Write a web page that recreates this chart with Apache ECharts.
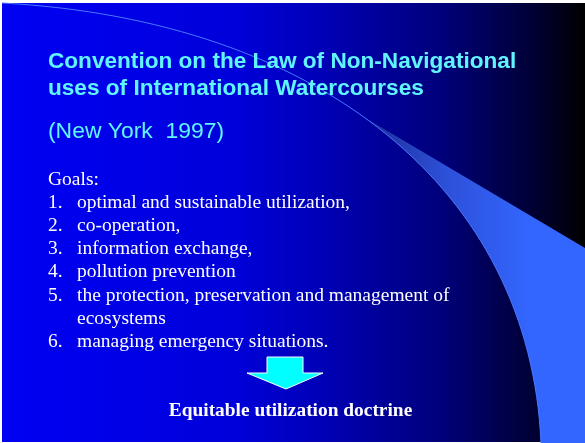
<!DOCTYPE html>
<html>
<head>
<meta charset="utf-8">
<script src="https://cdn.jsdelivr.net/npm/echarts@6/dist/echarts.min.js"></script>
<style>
html,body{margin:0;padding:0;background:#fff;}
#c{width:585px;height:443px;}
</style>
</head>
<body>
<div id="c"></div>
<script>
// ---- content ----
const titleLines = ['Convention on the Law of Non-Navigational', 'uses of International Watercourses'];
const subtitle = '(New York  1997)';
const goalsHeading = 'Goals:';
const goalNumbers = ['1.', '2.', '3.', '4.', '5.', '6.'];
const goalTexts = [
  ['optimal and sustainable utilization,'],
  ['co-operation,'],
  ['information exchange,'],
  ['pollution prevention'],
  ['the protection, preservation and management of', 'ecosystems'],
  ['managing emergency situations.']
];
const conclusion = 'Equitable utilization doctrine';

// ---- layout ----
const SANS = 'Liberation Sans, Arial, sans-serif';
const SERIF = 'Liberation Serif, Times New Roman, serif';
const chart = echarts.init(document.getElementById('c'), null, {renderer: 'canvas', width: 585, height: 443});

// curve geometry (lower edge of swoosh / thin arc)
const P0 = [2, 3], P1 = [320, 20], P2 = [530, 190], P3 = [541, 443];
function bez(t) {
  const u = 1 - t;
  const a = u * u * u, b = 3 * u * u * t, c = 3 * u * t * t, d = t * t * t;
  return [a * P0[0] + b * P1[0] + c * P2[0] + d * P3[0], a * P0[1] + b * P1[1] + c * P2[1] + d * P3[1]];
}
const swooshPts = [];
for (let k = 0; k <= 60; k++) swooshPts.push(bez(0.46 + (1 - 0.46) * k / 60));
swooshPts.push([585, 443], [585, 248]);

const BODY = 19.5;
function txt(text, x, baseline, opts) {
  const o = Object.assign({fontSize: BODY, fontFamily: SERIF}, opts || {});
  const k = o.fontFamily === SANS ? 0.35 : 0.3375;
  return {
    type: 'text', x: x, y: baseline - o.fontSize * k, silent: true,
    style: Object.assign({
      text: text, fill: '#ffffff', textAlign: 'left', textVerticalAlign: 'middle'
    }, o)
  };
}

const elements = [];
// background
elements.push({
  type: 'rect', shape: {x: 2, y: 3, width: 583, height: 439}, silent: true,
  style: {fill: {type: 'linear', x: 0, y: 0, x2: 1, y2: 0, colorStops: [
    {offset: 0, color: '#0000f4'},
    {offset: 0.4, color: '#0000da'},
    {offset: 0.55, color: '#0000b6'},
    {offset: 0.75, color: '#00007c'},
    {offset: 0.9, color: '#00003a'},
    {offset: 1, color: '#000000'}
  ]}}
});
// swoosh fill
elements.push({
  type: 'polygon', silent: true, shape: {points: swooshPts},
  style: {fill: {type: 'linear', x: 360, y: 0, x2: 530, y2: 0, global: true, colorStops: [
    {offset: 0, color: '#1a2a90'},
    {offset: 0.5, color: '#2d50d8'},
    {offset: 1, color: '#3366ff'}
  ]}}
});
// thin arc
elements.push({
  type: 'bezierCurve', silent: true,
  shape: {x1: P0[0], y1: P0[1], cpx1: P1[0], cpy1: P1[1], cpx2: P2[0], cpy2: P2[1], x2: P3[0], y2: P3[1]},
  style: {fill: null, stroke: '#4a78ff', lineWidth: 1}
});

// title
const titleBase = [70, 97];
titleLines.forEach(function (l, i) {
  elements.push(txt(l, 48, titleBase[i], {
    fill: '#60f4ff', fontSize: 22.6, fontWeight: 'bold', fontFamily: SANS,
    textShadowColor: 'rgba(0,0,40,0.6)', textShadowOffsetX: 1, textShadowOffsetY: 1, textShadowBlur: 0
  }));
});
elements.push(txt(subtitle, 48, 140, {fill: '#60f4ff', fontSize: 22.9, fontFamily: SANS}));

// goals
const goalBase0 = 186, goalStep = 23.2;
elements.push(txt(goalsHeading, 48, goalBase0));
let row = 1;
goalNumbers.forEach(function (n, i) {
  elements.push(txt(n, 48, goalBase0 + row * goalStep));
  goalTexts[i].forEach(function (l) {
    elements.push(txt(l, 77, goalBase0 + row * goalStep));
    row++;
  });
});

// arrow
elements.push({
  type: 'polygon', silent: true,
  shape: {points: [[267, 357], [303, 357], [303, 373], [323, 373], [286, 389], [247, 373], [267, 373]]},
  style: {fill: '#00ffff', stroke: '#ffffff', lineWidth: 1}
});

// conclusion
elements.push(txt(conclusion, 290.5, 418, {fontWeight: 'bold', textAlign: 'center', fontSize: 19.4}));

chart.setOption({backgroundColor: '#ffffff', animation: false, graphic: {elements: elements}});
</script>
</body>
</html>
